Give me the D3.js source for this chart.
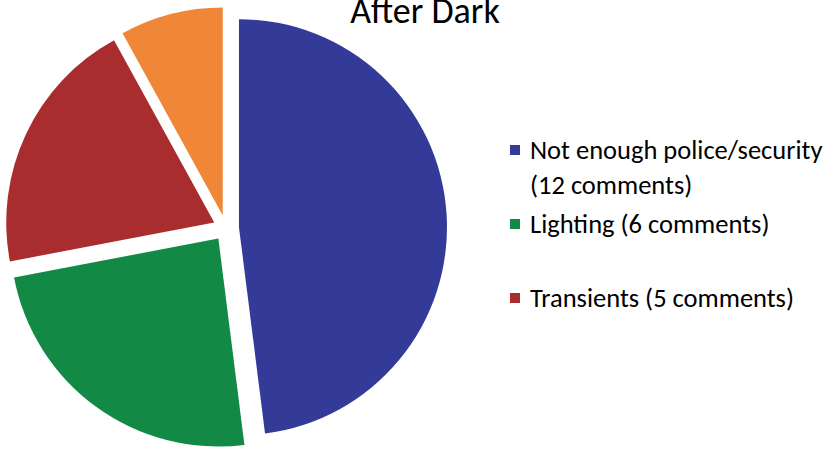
<!DOCTYPE html>
<html>
<head>
<meta charset="utf-8">
<script src="https://cdn.jsdelivr.net/npm/d3@7/dist/d3.min.js"></script>
<style>
  html, body { margin: 0; padding: 0; background: #ffffff; }
  svg { display: block; }
  text { font-family: Carlito, Lato, "Open Sans", sans-serif; fill: #000; }
</style>
</head>
<body>
<div id="chart"></div>
<script>
// Concerns raised about the area after dark
const categories = ["Not enough police/security", "Lighting", "Transients", "Other"];
const comments = [12, 6, 5, 2];
const colors = ["#343a98", "#128a46", "#a92c2f", "#f08638"];
const legendLines = [
  ["Not enough police/security", "(12 comments)"],
  ["Lighting (6 comments)"],
  ["Transients (5 comments)"]
];
const title = "After Dark";

const width = 826, height = 449;
const cx = 226, cy = 228, radius = 208, explode = 13;

const svg = d3.select("#chart").append("svg")
  .attr("width", width).attr("height", height);

const pie = d3.pie().sort(null).value(d => d.value);
const arc = d3.arc().innerRadius(0).outerRadius(radius);

const slices = pie(categories.map((c, i) => ({ name: c, value: comments[i], color: colors[i] })));

svg.append("g")
  .attr("transform", `translate(${cx},${cy})`)
  .selectAll("path")
  .data(slices)
  .join("path")
  .attr("d", arc)
  .attr("fill", d => d.data.color)
  .attr("transform", d => {
    const mid = (d.startAngle + d.endAngle) / 2;
    return `translate(${Math.sin(mid) * explode},${-Math.cos(mid) * explode})`;
  });

// Title, partly above the top edge
svg.append("text")
  .attr("x", 425).attr("y", 23)
  .attr("text-anchor", "middle")
  .attr("font-size", 36)
  .text(title);

// Legend
const legendY = [150, 224, 298];
const legend = svg.append("g");
legendLines.forEach((lines, i) => {
  const g = legend.append("g").attr("transform", `translate(510,${legendY[i]})`);
  g.append("rect")
    .attr("x", 0).attr("y", -5).attr("width", 10).attr("height", 10)
    .attr("fill", colors[i]);
  lines.forEach((t, j) => {
    g.append("text")
      .attr("x", 20).attr("y", j * 35)
      .attr("dy", "0.35em")
      .attr("font-size", 26.5)
      .text(t);
  });
});
</script>
</body>
</html>
